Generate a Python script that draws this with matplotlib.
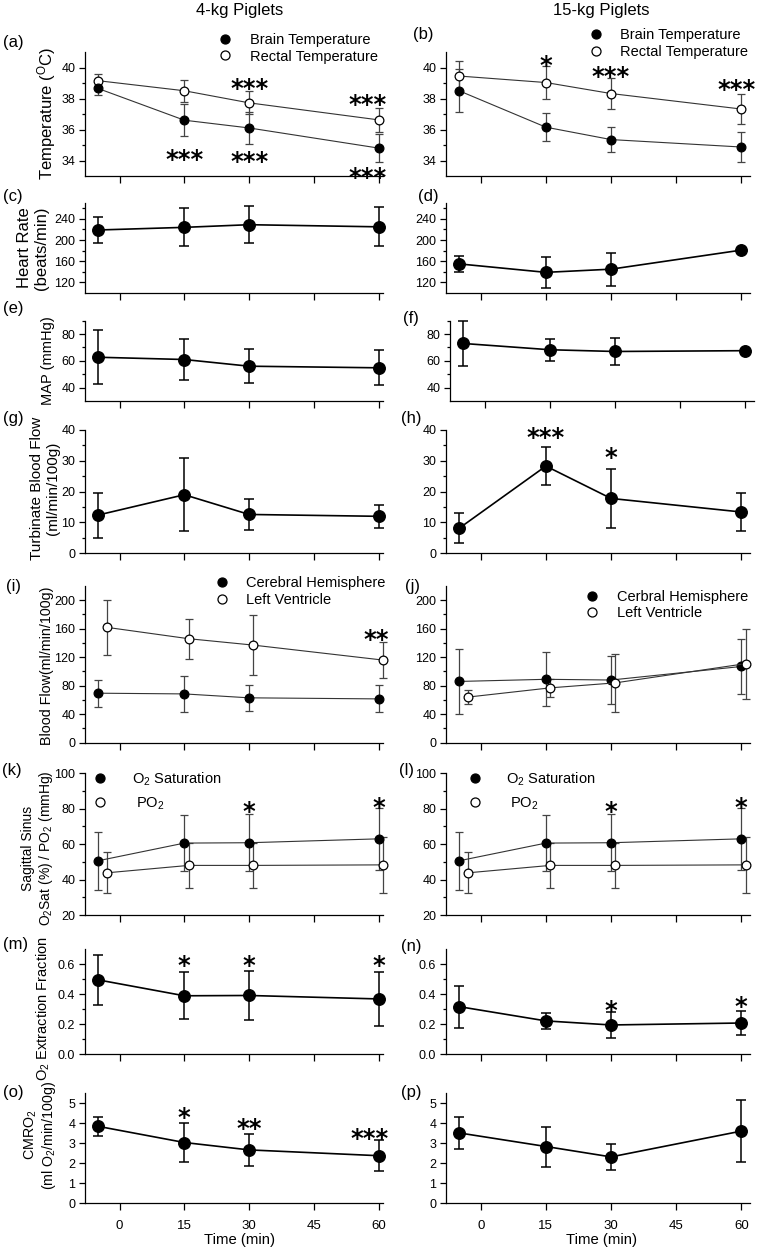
import matplotlib
matplotlib.use('Agg')
import matplotlib.pyplot as plt
from matplotlib.lines import Line2D
from matplotlib.ticker import FixedLocator, FormatStrFormatter

plt.rcParams['font.family'] = ['Liberation Sans', 'DejaVu Sans']
plt.rcParams['mathtext.fontset'] = 'custom'
plt.rcParams['mathtext.rm'] = 'Liberation Sans'
plt.rcParams['mathtext.it'] = 'Liberation Sans:italic'
plt.rcParams['mathtext.bf'] = 'Liberation Sans:bold'

# ---------------- data ----------------
t = [-5, 15, 30, 60]
t_open = [-3, 16, 31, 61]          # open-circle series drawn slightly to the right
xticks = [0, 15, 30, 45, 60]

a_brain = [38.65, 36.6, 36.1, 34.8];   a_brain_err = [0.4, 1.05, 1.05, 0.9]
a_rectal = [39.15, 38.5, 37.72, 36.62]; a_rectal_err = [0.4, 0.7, 0.75, 0.75]
b_brain = [38.5, 36.15, 35.35, 34.87]; b_brain_err = [1.4, 0.9, 0.83, 0.96]
b_rectal = [39.45, 39.03, 38.32, 37.32]; b_rectal_err = [1.0, 1.07, 1.02, 0.95]

c_hr = [219, 224, 229, 225]; c_hr_err = [25, 36, 35, 37]
d_hr = [155, 139, 145, 181]; d_hr_err = [15, 29, 31, 0]

e_map = [62.7, 61, 56, 54.8]; e_map_err = [20, 15, 12.5, 13]
f_map = [73, 68.3, 67, 67.6]; f_map_err = [16.5, 8.2, 10.2, 0]

g_tbf = [12.4, 19, 12.6, 12]; g_tbf_err = [7.3, 11.8, 5, 3.7]
h_tbf = [8.1, 28.3, 17.8, 13.4]; h_tbf_err = [4.9, 6.1, 9.6, 6.2]

i_cer = [69.5, 68.5, 63, 61.5]; i_cer_err = [19, 25, 18, 19]
i_lv = [162, 146, 137, 116]; i_lv_err = [38.5, 28, 42, 25]
j_cer = [86, 89, 88, 107]; j_cer_err = [46, 38, 33.5, 38]
j_lv = [64, 77, 84, 111]; j_lv_err = [10, 13, 41, 49]

k_sat = [50.6, 60.6, 60.8, 63]; k_sat_err = [16.5, 16, 16.2, 17.5]
k_po2 = [43.8, 48, 48, 48.3]; k_po2_err = [11.5, 12.5, 12.7, 16]
l_sat = [50.6, 60.6, 60.8, 63]; l_sat_err = [16.5, 16, 16.2, 17.5]
l_po2 = [43.8, 48, 48, 48.3]; l_po2_err = [11.5, 12.5, 12.7, 16]

m_oef = [0.495, 0.389, 0.391, 0.368]; m_oef_err = [0.165, 0.155, 0.16, 0.178]
n_oef = [0.317, 0.222, 0.195, 0.208]; n_oef_err = [0.14, 0.052, 0.084, 0.08]

o_cmro = [3.85, 3.04, 2.67, 2.38]; o_cmro_err = [0.48, 0.97, 0.8, 0.78]
p_cmro = [3.52, 2.84, 2.32, 3.61]; p_cmro_err = [0.82, 1.0, 0.64, 1.54]

# significance marks: (x, y, text)
stars_a = [(30, 39.05, '***'), (57.5, 38.0, '***'), (15, 34.45, '***'),
           (30, 34.3, '***'), (57.5, 33.3, '***')]
stars_b = [(15, 40.5, '*'), (30, 39.8, '***'), (59, 38.95, '***')]
stars_h = [(15, 39.6, '***'), (30, 33, '*')]
stars_i = [(59.5, 154, '**')]
stars_k = [(30, 82, '*'), (60, 84, '*')]
stars_l = [(30, 82, '*'), (60, 84, '*')]
stars_m = [(15, 0.63, '*'), (30, 0.63, '*'), (60, 0.63, '*')]
stars_n = [(30, 0.33, '*'), (60, 0.357, '*')]
stars_o = [(15, 4.58, '*'), (30, 4.03, '**'), (58, 3.53, '***')]

# ---------------- figure ----------------
W, H = 757, 1249
fig = plt.figure(figsize=(W / 100, H / 100), dpi=100)

LX0, LW = 85, 298
RX0, RW = 446, 304
rows = {
    'ab': (52, 176), 'cd': (203, 293), 'ef': (320.7, 401), 'gh': (430, 553.3),
    'ij': (586, 742.7), 'kl': (773.3, 915), 'mn': (949, 1054.3), 'op': (1093.3, 1203.3),
}


def make_ax(x0, w, row, xlim, ylim, yticks, yminor, bottom=False):
    ytop, ybot = rows[row]
    ax = fig.add_axes([x0 / W, 1 - ybot / H, w / W, (ybot - ytop) / H])
    ax.set_xlim(*xlim)
    ax.set_ylim(*ylim)
    for s in ('top', 'right'):
        ax.spines[s].set_visible(False)
    for s in ('left', 'bottom'):
        ax.spines[s].set_linewidth(0.9)
    ax.set_xticks(xticks)
    ax.yaxis.set_major_locator(FixedLocator(yticks))
    ax.yaxis.set_minor_locator(FixedLocator(yminor))
    ax.tick_params(axis='y', which='major', direction='out', length=4, width=0.9,
                   labelsize=9, pad=3)
    ax.tick_params(axis='y', which='minor', direction='out', length=2, width=0.9)
    ax.tick_params(axis='x', which='major', direction='out', length=5, width=0.9,
                   labelsize=9.5, pad=7, labelbottom=bottom)
    ax.patch.set_alpha(0)
    return ax


def big(ax, x, y, e):
    ax.errorbar(x, y, yerr=e, fmt='o-', color='k', ms=8.3, lw=1.2,
                elinewidth=1.1, capsize=3.5, capthick=1.1, clip_on=False)


def small(ax, x, y, e, filled):
    ax.errorbar(x, y, yerr=e, fmt='o-', color='#333333', mfc='k' if filled else 'white',
                mec='k', mew=0.9, ms=6.3, lw=0.8, ecolor='#444444',
                elinewidth=0.9, capsize=3.2, capthick=0.9, clip_on=False)


STAR_FS = 17.5


def stars(ax, lst):
    for x, y, s in lst:
        ax.annotate(s, (x, y), xytext=(0, -0.56 * STAR_FS), textcoords='offset points',
                    ha='center', va='baseline', fontsize=STAR_FS, fontweight='bold',
                    family='DejaVu Sans', annotation_clip=False)


def legend(ax, labels, fills, mx, tx, yc, spacing, ms=6.5, fs=10.5):
    fs_px = fs * 100 / 72
    hl = 1.0
    left = mx - hl * fs_px / 2
    pad = (tx - left - hl * fs_px) / fs_px
    handles = [Line2D([], [], marker='o', ls='none', mfc='k' if f else 'white',
                      mec='k', mew=0.9, ms=ms) for f in fills]
    ax.legend(handles, labels, frameon=False, loc='center left',
              bbox_to_anchor=(left / W, 1 - yc / H), bbox_transform=fig.transFigure,
              borderpad=0, borderaxespad=0, handlelength=hl, handletextpad=pad,
              labelspacing=spacing, fontsize=fs)


XL = (-8, 61)
XR = (-8, 62)

# (a) / (b) temperatures
ax = make_ax(LX0, LW, 'ab', XL, (33, 41), [34, 36, 38, 40], [35, 37, 39])
small(ax, t, a_rectal, a_rectal_err, False)
small(ax, t, a_brain, a_brain_err, True)
stars(ax, stars_a)
legend(ax, ['Brain Temperature', 'Rectal Temperature'], [True, False], 225, 250, 48.5, 0.15)

ax = make_ax(RX0, RW, 'ab', XR, (33, 41), [34, 36, 38, 40], [35, 37, 39])
small(ax, t, b_rectal, b_rectal_err, False)
small(ax, t, b_brain, b_brain_err, True)
stars(ax, stars_b)
legend(ax, ['Brain Temperature', 'Rectal Temperature'], [True, False], 596, 620, 43.8, 0.2)

# (c) / (d) heart rate
ax = make_ax(LX0, LW, 'cd', XL, (100, 270), [120, 160, 200, 240], [140, 180, 220, 260])
big(ax, t, c_hr, c_hr_err)
ax = make_ax(RX0, RW, 'cd', XR, (100, 270), [120, 160, 200, 240], [140, 180, 220, 260])
big(ax, t, d_hr, d_hr_err)

# (e) / (f) MAP
ax = make_ax(LX0, LW, 'ef', XL, (30, 90), [40, 60, 80], [50, 70, 90])
big(ax, t, e_map, e_map_err)
ax = make_ax(RX0 + 4, RW, 'ef', XR, (30, 90), [40, 60, 80], [50, 70, 90])
big(ax, t, f_map, f_map_err)

# (g) / (h) turbinate blood flow
ax = make_ax(LX0, LW, 'gh', XL, (0, 40), [0, 10, 20, 30, 40], [5, 15, 25, 35])
big(ax, t, g_tbf, g_tbf_err)
ax = make_ax(RX0, RW, 'gh', XR, (0, 40), [0, 10, 20, 30, 40], [5, 15, 25, 35])
big(ax, t, h_tbf, h_tbf_err)
stars(ax, stars_h)

# (i) / (j) blood flow
ax = make_ax(LX0, LW, 'ij', XL, (0, 220), [0, 40, 80, 120, 160, 200], [20, 60, 100, 140, 180])
small(ax, t_open, i_lv, i_lv_err, False)
small(ax, t, i_cer, i_cer_err, True)
stars(ax, stars_i)
legend(ax, ['Cerebral Hemisphere', 'Left Ventricle'], [True, False], 221.7, 246, 591.8, 0.2)
ax = make_ax(RX0, RW, 'ij', XR, (0, 220), [0, 40, 80, 120, 160, 200], [20, 60, 100, 140, 180])
small(ax, t, j_cer, j_cer_err, True)
small(ax, t_open, j_lv, j_lv_err, False)
legend(ax, ['Cerbral Hemisphere', 'Left Ventricle'], [True, False], 592, 617, 605, 0.15)

# (k) / (l) sagittal sinus
ax = make_ax(LX0, LW, 'kl', XL, (20, 100), [20, 40, 60, 80, 100], [30, 50, 70, 90])
small(ax, t_open, k_po2, k_po2_err, False)
small(ax, t, k_sat, k_sat_err, True)
stars(ax, stars_k)
legend(ax, ['O$_2$ Saturation', ' PO$_2$'], [True, False], 100, 132, 791, 0.5)
ax = make_ax(RX0, RW, 'kl', XR, (20, 100), [20, 40, 60, 80, 100], [30, 50, 70, 90])
small(ax, t_open, l_po2, l_po2_err, False)
small(ax, t, l_sat, l_sat_err, True)
stars(ax, stars_l)
legend(ax, ['O$_2$ Saturation', ' PO$_2$'], [True, False], 475, 506, 791, 0.5)

# (m) / (n) OEF
ax = make_ax(LX0, LW, 'mn', XL, (0, 0.7), [0.0, 0.2, 0.4, 0.6], [0.1, 0.3, 0.5])
ax.yaxis.set_major_formatter(FormatStrFormatter('%.1f'))
big(ax, t, m_oef, m_oef_err)
stars(ax, stars_m)
ax = make_ax(RX0, RW, 'mn', XR, (0, 0.7), [0.0, 0.2, 0.4, 0.6], [0.1, 0.3, 0.5])
ax.yaxis.set_major_formatter(FormatStrFormatter('%.1f'))
big(ax, t, n_oef, n_oef_err)
stars(ax, stars_n)

# (o) / (p) CMRO2
ax = make_ax(LX0, LW, 'op', XL, (0, 5.5), [0, 1, 2, 3, 4, 5], [], bottom=True)
big(ax, t, o_cmro, o_cmro_err)
stars(ax, stars_o)
ax = make_ax(RX0, RW, 'op', XR, (0, 5.5), [0, 1, 2, 3, 4, 5], [], bottom=True)
big(ax, t, p_cmro, p_cmro_err)


# ---------------- text ----------------
def ftext(x, y, s, **kw):
    fig.text(x / W, 1 - y / H, s, **kw)


ftext(240, 10, '4-kg Piglets', ha='center', va='center', fontsize=12)
ftext(601, 10, '15-kg Piglets', ha='center', va='center', fontsize=12)

letters = [('(a)', 3, 43), ('(b)', 413, 34), ('(c)', 3, 196), ('(d)', 418, 196),
           ('(e)', 3, 309), ('(f)', 403, 318), ('(g)', 3, 419), ('(h)', 401, 418),
           ('(i)', 6, 586), ('(j)', 405, 586), ('(k)', 2, 770), ('(l)', 399, 771),
           ('(m)', 3, 945), ('(n)', 401, 947), ('(o)', 3, 1093), ('(p)', 401, 1093)]
for s, x, y in letters:
    ftext(x, y, s, ha='left', va='center', fontsize=12)

ylabels = [('Temperature ($^{\\mathrm{O}}$C)', 47, 113, 12),
           ('Heart Rate\n(beats/min)', 33, 248, 12),
           ('MAP (mmHg)', 48, 361, 10.5),
           ('Turbinate Blood Flow\n(ml/min/100g)', 45, 488, 11),
           ('Blood Flow(ml/min/100g)', 46.7, 666, 10.3),
           ('Sagittal Sinus\nO$_2$Sat (%) / PO$_2$ (mmHg)', 38, 848, 10.0),
           ('O$_2$ Extraction Fraction', 43, 1009, 10.5),
           ('CMRO$_2$\n(ml O$_2$/min/100g)', 40, 1135, 10.3)]
for s, x, y, fs in ylabels:
    ftext(x, y, s, ha='center', va='center', rotation=90, fontsize=fs,
          multialignment='center', linespacing=1.1)

ftext(239, 1240, 'Time (min)', ha='center', va='center', fontsize=10.7)
ftext(601, 1240, 'Time (min)', ha='center', va='center', fontsize=10.7)

fig.savefig('out.png', dpi=100)
